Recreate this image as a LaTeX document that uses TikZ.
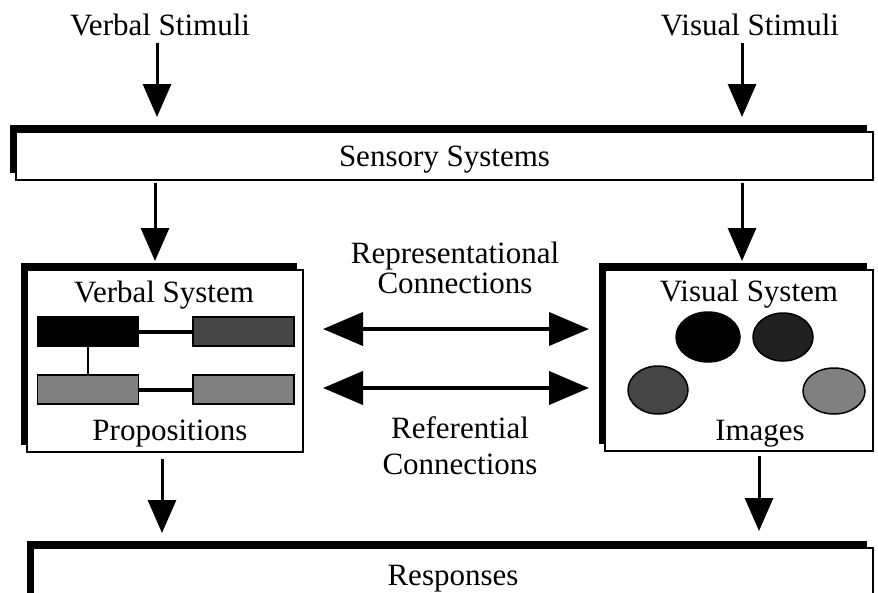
\documentclass[tikz,border=0pt]{standalone}
\usepackage{fontspec}
\setmainfont{Liberation Serif}
\usepackage{tikz}
\usetikzlibrary{positioning, arrows.meta, shapes.geometric, shadows}
\tikzset{
    sysbox/.style={rectangle, draw=black, line width=2pt, fill=white, inner sep=0pt, text depth=0pt,
        font=\fontsize{31}{31}\selectfont,
        general shadow={fill=black, shadow xshift=-6pt, shadow yshift=7.5pt}},
    lbl/.style={inner sep=0pt, align=center, font=\fontsize{31}{30}\selectfont},
    prop/.style={rectangle, draw=black, line width=1.5pt, minimum width=101pt, minimum height=29pt, inner sep=0pt},
    img/.style={ellipse, draw=black, line width=1.5pt, inner sep=0pt},
    link/.style={line width=4pt},
    flow/.style={-{Triangle[length=33pt, width=28pt]}, line width=3pt},
    conn/.style={{Triangle[length=40pt, width=33pt]}-{Triangle[length=40pt, width=33pt]}, line width=4pt}
}

\begin{document}
\begin{tikzpicture}[x=1pt, y=-1pt]
    \useasboundingbox (0,0) rectangle (878,592);
    \clip (0,0) rectangle (878,592);

    % Stimuli
    \node[lbl, anchor=base] (verbstim) at (160,35) {Verbal Stimuli};
    \node[lbl, anchor=base] (visstim) at (750,35) {Visual Stimuli};

    % Systems
    \node[sysbox, minimum width=857pt, minimum height=48pt] (sensory) at (444.5,156) {Sensory Systems};
    \node[sysbox, minimum width=276pt, minimum height=182pt] (verbal) at (165,361) {};
    \node[sysbox, minimum width=268pt, minimum height=181pt] (visual) at (739,360.5) {};
    \node[sysbox, minimum width=840pt, minimum height=54pt] (resp) at (453,575) {Responses};

    % Labels
    \node[lbl, anchor=base] (verbtitle) at (164,302) {Verbal System};
    \node[lbl, anchor=base] (verbsub) at (170,440) {Propositions};
    \node[lbl, anchor=base] (vistitle) at (749,301) {Visual System};
    \node[lbl, anchor=base] (vissub) at (760,440) {Images};
    \node[lbl] (reprtext) at (455,267.5) {Representational\\Connections};
    \node[lbl] (reftext) at (460,445.5) {Referential\\[6pt]Connections};

    % Propositions
    \node[prop, fill=black] (propa) at (88,331.5) {};
    \node[prop, fill=black!73] (propb) at (243.5,331.5) {};
    \node[prop, fill=black!50] (propc) at (88,389.5) {};
    \node[prop, fill=black!50] (propd) at (243.5,389.5) {};
    \draw[link] (propa) -- (propb);
    \draw[link] (propc) -- (propd);
    \draw[line width=2.5pt] (propa) -- (propc);

    % Images
    \node[img, fill=black, minimum width=64pt, minimum height=50pt] (imga) at (708,337) {};
    \node[img, fill=black!87, minimum width=60pt, minimum height=48pt] (imgb) at (783,337) {};
    \node[img, fill=black!73, minimum width=60pt, minimum height=48pt] (imgc) at (658,390) {};
    \node[img, fill=black!50, minimum width=62pt, minimum height=46pt] (imgd) at (834,391) {};

    % Arrows
    \draw[flow, shorten <=7pt, shorten >=14pt] ([xshift=-3pt]verbstim.south) -- ([xshift=-3pt]verbstim.south |- sensory.north);
    \draw[flow, shorten <=7pt, shorten >=14pt] ([xshift=-8pt]visstim.south) -- ([xshift=-8pt]visstim.south |- sensory.north);
    \draw[flow, shorten <=2pt, shorten >=8pt] ([xshift=-10pt]verbal.north |- sensory.south) -- ([xshift=-10pt]verbal.north);
    \draw[flow, shorten <=2pt, shorten >=8pt] ([xshift=3pt]visual.north |- sensory.south) -- ([xshift=3pt]visual.north);
    \draw[flow, shorten <=6pt, shorten >=14pt] ([xshift=-3pt]verbal.south) -- ([xshift=-3pt]verbal.south |- resp.north);
    \draw[flow, shorten <=4pt, shorten >=16pt] ([xshift=20pt]visual.south) -- ([xshift=20pt]visual.south |- resp.north);
    \draw[conn, shorten <=19pt, shorten >=15pt] ([yshift=32pt]verbal.east) -- ([yshift=32pt]verbal.east -| visual.west);
    \draw[conn, shorten <=19pt, shorten >=15pt] ([yshift=-27pt]verbal.east) -- ([yshift=-27pt]verbal.east -| visual.west);
\end{tikzpicture}
\end{document}
